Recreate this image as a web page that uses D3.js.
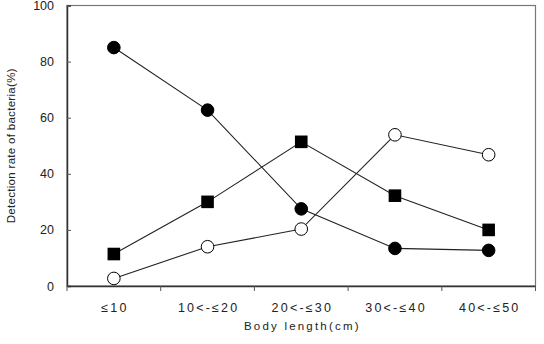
<!DOCTYPE html>
<html>
<head>
<script src="https://d3js.org/d3.v7.min.js"></script>
<style>
  body { margin: 0; background: #fff; }
  svg text { font-family: "Liberation Sans", Arial, sans-serif; fill: #222; }
</style>
</head>
<body>
<svg id="chart" width="544" height="344"></svg>
<script>
const categories = ["≤10", "10<-≤20", "20<-≤30", "30<-≤40", "40<-≤50"];
const filledCircle = [85, 62.7, 27.5, 13.4, 12.7];
const filledSquare = [11.4, 30, 51.4, 32.2, 20];
const openCircle = [2.7, 14, 20.3, 53.9, 46.8];
const yTicks = [0, 20, 40, 60, 80, 100];

const svg = d3.select("svg#chart");
const plotL = 67, plotR = 535.5, plotT = 5.5, plotB = 286;

const x = d3.scaleBand().domain(categories).range([plotL, plotR]);
const y = d3.scaleLinear().domain([0, 100]).range([plotB, plotT]);

// frame
svg.append("rect")
  .attr("x", plotL).attr("y", plotT)
  .attr("width", plotR - plotL).attr("height", plotB - plotT)
  .attr("fill", "none").attr("stroke", "#777").attr("stroke-width", 1.2);

// y axis
const yAxis = svg.append("g").attr("transform", `translate(${plotL},0)`)
  .call(d3.axisLeft(y).tickValues(yTicks).tickSize(-4).tickPadding(13));
yAxis.select(".domain").attr("stroke", "#333").attr("stroke-width", 1.5);
yAxis.selectAll(".tick line").attr("stroke", "#555");
yAxis.selectAll("text").attr("font-size", 12.5).attr("fill", "#222");

// x axis
const xAxis = svg.append("g").attr("transform", `translate(0,${plotB})`)
  .call(d3.axisBottom(x).tickSize(0).tickPadding(17));
xAxis.select(".domain").attr("stroke", "#333").attr("stroke-width", 1.5);
xAxis.selectAll("text").attr("font-size", 12.5).attr("fill", "#222")
  .attr("letter-spacing", 2.2).attr("dx", 1.1);
const xEdges = d3.range(categories.length + 1).map(i => plotL + i * x.bandwidth());
xAxis.selectAll("line.edge").data(xEdges).join("line").attr("class", "edge")
  .attr("x1", d => d).attr("x2", d => d).attr("y1", 0).attr("y2", 5)
  .attr("stroke", "#555");

// axis titles
svg.append("text")
  .attr("x", (plotL + plotR) / 2 + 1.1).attr("y", 330)
  .attr("text-anchor", "middle").attr("font-size", 11.5)
  .attr("letter-spacing", 2.2)
  .text("Body length(cm)");
svg.append("text")
  .attr("transform", `translate(15,${(plotT + plotB) / 2}) rotate(-90)`)
  .attr("text-anchor", "middle").attr("font-size", 11.5)
  .attr("letter-spacing", 0.3)
  .text("Detection rate of bacteria(%)");

const cx = d => x(d) + x.bandwidth() / 2;
const line = d3.line().x(d => cx(d.c)).y(d => y(d.v));
const series = [
  { vals: filledCircle, shape: "circle", fill: "#000" },
  { vals: filledSquare, shape: "square", fill: "#000" },
  { vals: openCircle, shape: "circle", fill: "#fff" }
];

series.forEach(s => {
  const pts = s.vals.map((v, i) => ({ c: categories[i], v: v }));
  svg.append("path").datum(pts).attr("d", line)
    .attr("fill", "none").attr("stroke", "#222").attr("stroke-width", 1.1);
  if (s.shape === "circle") {
    svg.selectAll(null).data(pts).join("circle")
      .attr("cx", d => cx(d.c)).attr("cy", d => y(d.v)).attr("r", 6.3)
      .attr("fill", s.fill).attr("stroke", "#000").attr("stroke-width", 1);
  } else {
    svg.selectAll(null).data(pts).join("rect")
      .attr("x", d => cx(d.c) - 6.3).attr("y", d => y(d.v) - 6.3)
      .attr("width", 12.6).attr("height", 12.6)
      .attr("fill", s.fill);
  }
});
</script>
</body>
</html>
